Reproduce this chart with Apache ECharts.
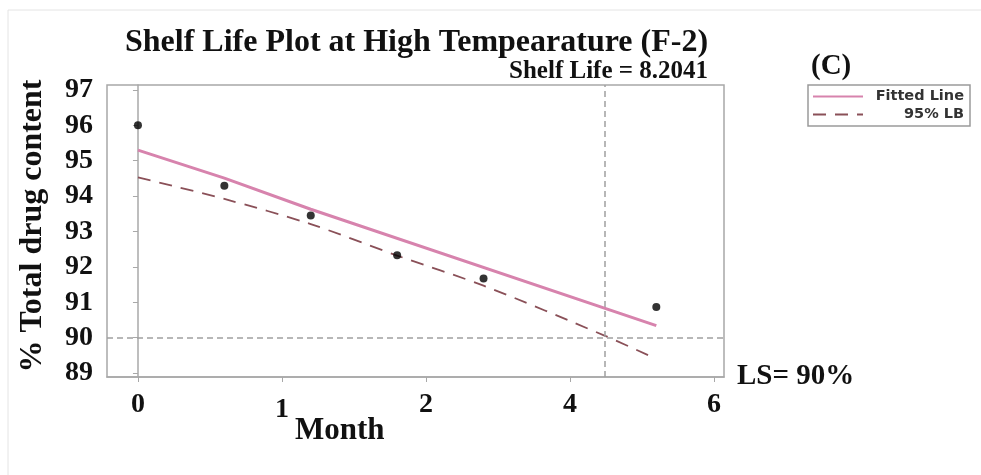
<!DOCTYPE html>
<html>
<head>
<meta charset="utf-8">
<script src="https://cdn.jsdelivr.net/npm/echarts@6/dist/echarts.min.js"></script>
<style>
html,body{margin:0;padding:0;background:#fff;}
#chart{width:981px;height:475px;}
</style>
</head>
<body>
<div id="chart"></div>
<script>
// Data (x in axis position units; tick labels below map positions to printed labels)
var xTickPositions = [0, 1, 2, 3, 4];
var xTickLabels = ['0', '1', '2', '4', '6'];
var yTicks = [89, 90, 91, 92, 93, 94, 95, 96, 97];

var pointX = [0, 0.6, 1.2, 1.8, 2.4, 3.6];
var pointY = [96.0, 94.29, 93.45, 92.33, 91.67, 90.87];

var fitX = [0, 0.6, 1.2, 3.6];
var fitY = [95.30, 94.51, 93.63, 90.34];

var lbX = [0, 0.6, 1.2, 1.8, 2.4, 3.24, 3.58];
var lbY = [94.53, 93.92, 93.21, 92.32, 91.47, 90.06, 89.44];

var specLimit = 90;
var shelfLifePos = 3.236;

function zip(a, b) { return a.map(function (v, i) { return [v, b[i]]; }); }

var serif = '"Liberation Serif", "Times New Roman", serif';
var legendFont = '"DejaVu Sans", sans-serif';
var chart = echarts.init(document.getElementById('chart'));
chart.setOption({
  backgroundColor: '#ffffff',
  animation: false,
  graphic: [{
    type: 'rect', shape: { x: 8, y: 10, width: 1000, height: 500 },
    style: { fill: 'none', stroke: '#e4e4e4', lineWidth: 1 }, silent: true
  }],
  title: [
    { text: 'Shelf Life Plot at High Tempearature (F-2)', left: 120, top: 22,
      textStyle: { fontFamily: serif, fontWeight: 'bold', fontSize: 32, color: '#111' } },
    { text: 'Shelf Life = 8.2041', right: 268, top: 54,
      textStyle: { fontFamily: serif, fontWeight: 'bold', fontSize: 25, color: '#111' } },
    { text: '(C)', left: 806, top: 47,
      textStyle: { fontFamily: serif, fontWeight: 'bold', fontSize: 29, color: '#111' } },
    { text: 'Month', left: 290, top: 410,
      textStyle: { fontFamily: serif, fontWeight: 'bold', fontSize: 31, color: '#111' } },
    { text: 'LS= 90%', left: 732, top: 357,
      textStyle: { fontFamily: serif, fontWeight: 'bold', fontSize: 29, color: '#111' } }
  ],
  legend: {
    data: ['Fitted Line', '95% LB'],
    orient: 'vertical',
    left: 808, top: 85,
    padding: [4, 6, 4, 4],
    itemGap: 3,
    itemWidth: 50, itemHeight: 14,
    itemStyle: { opacity: 0 },
    borderColor: '#9a9a9a', borderWidth: 1.5,
    formatter: function (name) { return '{t|' + name + '}'; },
    textStyle: {
      rich: { t: { fontFamily: legendFont, fontWeight: 'bold', fontSize: 14.5, color: '#333', width: 96, align: 'right' } }
    }
  },
  grid: { left: 107, top: 85, right: 257, bottom: 98, show: true,
    borderColor: '#a8a8a8', borderWidth: 1.5, containLabel: false },
  xAxis: {
    type: 'value', min: -0.215, max: 4.07,
    axisLine: { show: true, onZero: false, lineStyle: { color: '#a8a8a8', width: 1.5 } },
    axisTick: { show: true, length: 5, lineStyle: { color: '#a8a8a8' }, customValues: xTickPositions },
    splitLine: { show: false },
    axisLabel: {
      customValues: xTickPositions,
      margin: 14,
      fontFamily: serif, fontWeight: 'bold', fontSize: 28, color: '#111',
      formatter: function (v) {
        var i = xTickPositions.indexOf(v);
        if (i < 0) return '';
        return i === 1 ? '{low|' + xTickLabels[i] + '}' : xTickLabels[i];
      },
      rich: { low: { fontFamily: serif, fontWeight: 'bold', fontSize: 28, color: '#111', padding: [5, 0, 0, 0] } }
    }
  },
  yAxis: {
    type: 'value', min: 88.89, max: 97.14,
    axisLine: { show: true, lineStyle: { color: '#a8a8a8', width: 1.5 } },
    axisTick: { show: true, length: 5, lineStyle: { color: '#a8a8a8' }, customValues: yTicks },
    splitLine: { show: false },
    axisLabel: { customValues: yTicks, margin: 14, fontFamily: serif, fontWeight: 'bold', fontSize: 28, color: '#111' },
    name: '% Total drug content', nameLocation: 'middle', nameRotate: 90, nameGap: 58,
    nameTextStyle: { fontFamily: serif, fontWeight: 'bold', fontSize: 32, color: '#111', padding: [0, 0, 0, 10] }
  },
  series: [
    {
      name: 'Data', type: 'scatter', data: zip(pointX, pointY),
      symbolSize: 8, itemStyle: { color: '#000' }, z: 5,
      markLine: {
        silent: true, symbol: 'none', label: { show: false },
        lineStyle: { color: '#a0a0a0', type: [6, 4], width: 1.5 },
        data: [{ yAxis: specLimit }, { xAxis: shelfLifePos }]
      }
    },
    {
      name: 'Fitted Line', type: 'line', data: zip(fitX, fitY),
      symbol: 'none', lineStyle: { color: '#d783ad', width: 3 }, itemStyle: { color: '#d783ad' }
    },
    {
      name: '95% LB', type: 'line', data: zip(lbX, lbY), smooth: 0.3,
      symbol: 'none', lineStyle: { color: '#8a5058', width: 1.8, type: [13, 9] }, itemStyle: { color: '#8a5058' }
    }
  ]
});
</script>
</body>
</html>
